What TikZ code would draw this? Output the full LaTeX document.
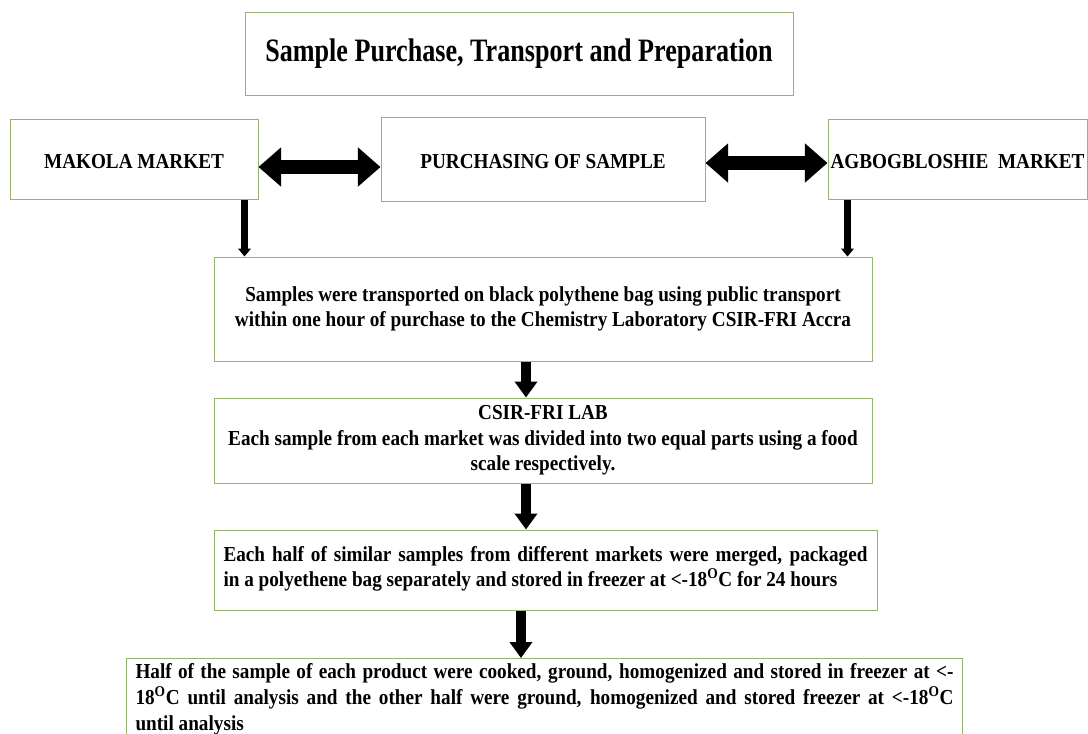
\documentclass[tikz,border=0pt]{standalone}
\usepackage{fontspec}
\setmainfont{Liberation Serif}[FakeStretch=0.9]
\newfontfamily\headfont{Liberation Serif}[FakeStretch=0.8]
\usepackage{xcolor}
\usepackage{tikz}
\usetikzlibrary{arrows.meta}
\definecolor{boxgreen}{RGB}{150,180,110}
\tikzset{box/.style={rectangle,draw=boxgreen,line width=0.75pt,fill=white,align=center,inner sep=2pt,font=\bfseries\fontsize{16}{19}\selectfont}}
\tikzset{twoway/.style={line width=10.5pt,{Triangle[length=17pt,width=28.5pt]}-{Triangle[length=17pt,width=28.5pt]}}}
\tikzset{smalldown/.style={line width=5.25pt,-{Triangle[length=6pt,width=9.5pt]}}}
\tikzset{bigdown/.style={line width=7.5pt,-{Triangle[length=12pt,width=16.5pt]}}}

\begin{document}
\begin{tikzpicture}[x=0.75pt,y=-0.75pt]
    \useasboundingbox (0,0) rectangle (1088,733);
    \clip (0,0) rectangle (1088,733);

    \node[box,minimum width=411pt,minimum height=62.25pt,font=\headfont\bfseries\fontsize{24.5}{28}\selectfont] (title) at (519,53.5) {Sample Purchase, Transport and Preparation};
    \node[box,minimum width=186pt,minimum height=60pt,text height=14pt] (makola) at (134,159) {MAKOLA MARKET};
    \node[box,minimum width=243pt,minimum height=63pt,text height=14pt] (purchase) at (543,159) {PURCHASING OF SAMPLE};
    \node[box,minimum width=194.25pt,minimum height=60pt,inner sep=0pt,text height=14pt] (agbog) at (957.5,159) {AGBOGBLOSHIE\ \ MARKET};
    \node[box,minimum width=493.5pt,minimum height=78pt] (transport) at (543,309) {Samples were transported on black polythene bag using public transport\\within one hour of purchase to the Chemistry Laboratory CSIR-FRI Accra};
    \node[box,minimum width=493.5pt,minimum height=63.75pt] (csir) at (543,440.5) {CSIR-FRI LAB\\Each sample from each market was divided into two equal parts using a food\\scale respectively.};
    \node[box,minimum width=497.25pt,minimum height=60pt,text width=483pt,inner xsep=7pt,align=justify,text depth=24pt] (half) at (545.5,570) {Each half of similar samples from different markets were merged, packaged\linebreak in a polyethene bag separately and stored in freezer at <-18\textsuperscript{O}C for 24 hours};
    \node[box,anchor=north west,text width=613.5pt,inner xsep=6.75pt,inner ysep=4pt,align=justify,font=\bfseries\fontsize{16}{19.5}\selectfont] (final) at (126,658) {Half of the sample of each product were cooked, ground, homogenized and stored in freezer at <-\linebreak 18\textsuperscript{O}C until analysis and the other half were ground, homogenized and stored freezer at <-18\textsuperscript{O}C\linebreak until analysis};

    \draw [twoway] ([yshift=-6pt]makola.east) -- ([yshift=-6pt]purchase.west);
    \draw [twoway] ([yshift=-3pt]purchase.east) -- ([yshift=-3pt]agbog.west);
    \draw [smalldown] ([xshift=-10.5pt]makola.south east) -- ([xshift=-10.5pt]makola.south east |- transport.north);
    \draw [smalldown] ([xshift=15pt]agbog.south west) -- ([xshift=15pt]agbog.south west |- transport.north);
    \draw [bigdown] ([xshift=-12.75pt]transport.south) -- ([xshift=-12.75pt]csir.north);
    \draw [bigdown] ([xshift=-12.75pt]csir.south) -- ([xshift=-12.75pt]csir.south |- half.north);
    \draw [bigdown] ([xshift=-18.4pt]half.south) -- ([xshift=-18.4pt]half.south |- final.north);
\end{tikzpicture}
\end{document}
